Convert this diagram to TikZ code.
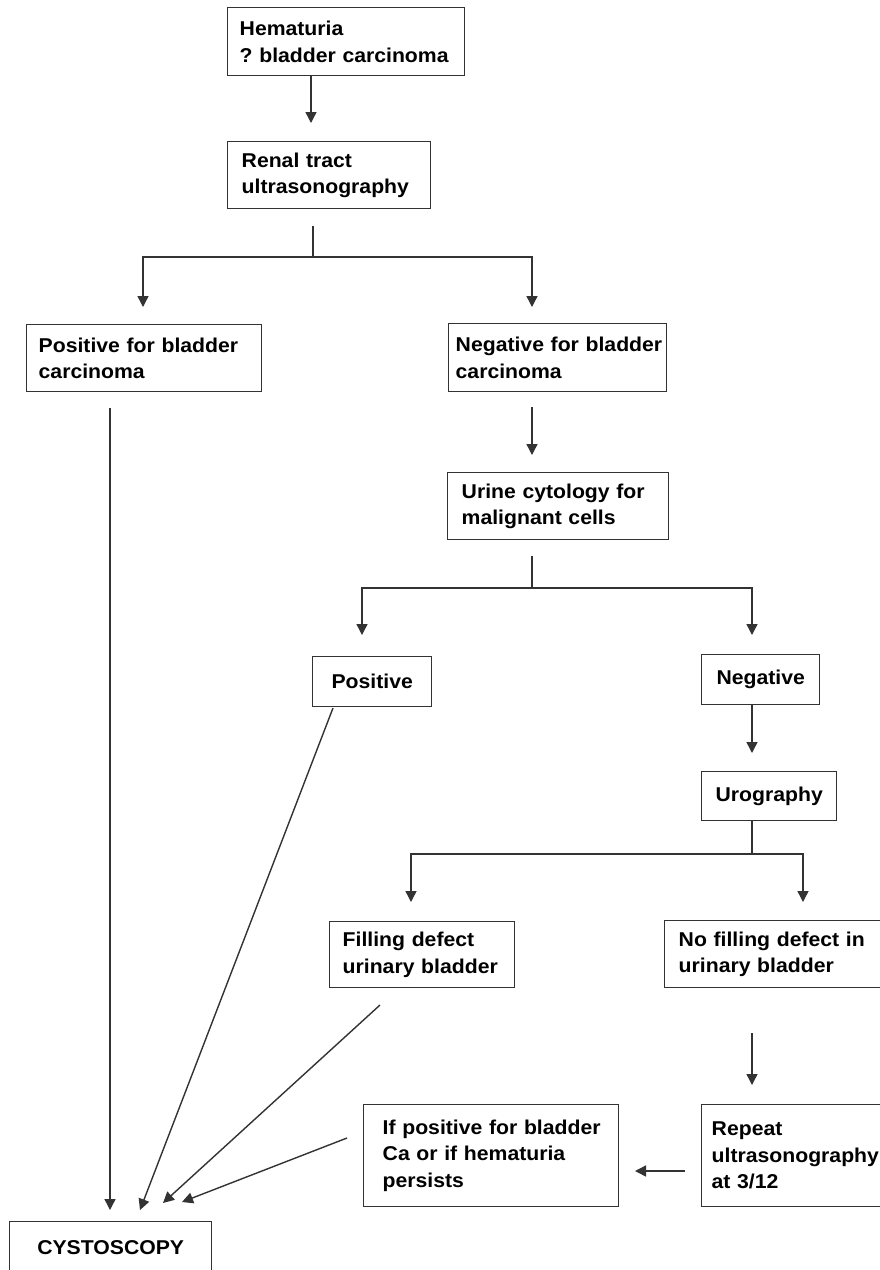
\documentclass[tikz,border=0pt]{standalone}
\usepackage{fontspec}
\setmainfont{Liberation Sans}[FakeStretch=1.06]
\usetikzlibrary{arrows.meta,calc}
\definecolor{ink}{HTML}{333333}
\frenchspacing
\begin{document}
\begin{tikzpicture}[x=1pt,y=-1pt,
  box/.style={draw=ink, line width=1.4pt, anchor=north west, inner ysep=0pt,
    font=\bfseries\fontsize{20}{26.5}\selectfont, text=black},
  lbox/.style args={#1/#2/#3}{box, minimum width=#1, minimum height=#2,
    inner xsep=#3, text width=#1-2*#3, align=left},
  cbox/.style args={#1/#2}{box, minimum width=#1, minimum height=#2, inner xsep=0pt, align=center},
  ln/.style={draw=ink, line width=1.4pt},
  arr/.style={ln, -{Triangle[length=11pt,width=11pt]}}]
\useasboundingbox (0,0) rectangle (880,1270);
\fill[white] (0,0) rectangle (880,1270);

% boxes
\node[lbox=237/68/12] (hem) at (227,7) {\mbox{Hematuria}\\\mbox{? bladder carcinoma}};
\node[lbox=203/67/14] (renal) at (227,141) {\mbox{Renal tract}\\\mbox{ultrasonography}};
\node[lbox=235/67/12] (pos) at (26,324) {\mbox{Positive for bladder}\\\mbox{carcinoma}};
\node[lbox=218/68/7] (neg) at (448,323) {\mbox{Negative for bladder}\\\mbox{carcinoma}};
\node[lbox=221/67/14] (urine) at (447,472) {\mbox{Urine cytology for}\\\mbox{malignant cells}};
\node[cbox=119/50] (possm) at (312,656) {Positive};
\node[cbox=118/50] (negsm) at (701,654) {Negative};
\node[cbox=135/49] (urog) at (701,771) {Urography};
\node[lbox=185/66/13] (fill) at (329,921) {\mbox{Filling defect}\\\mbox{urinary bladder}};
\node[lbox=220/67/14] (nofill) at (664,920) {\mbox{No filling defect in}\\\mbox{urinary bladder}};
\node[lbox=255/102/19] (ifpos) at (363,1104) {\mbox{If positive for bladder}\\\mbox{Ca or if hematuria}\\\mbox{persists}};
\node[lbox=190/102/10] (repeat) at (701,1104) {\mbox{Repeat}\\\mbox{ultrasonography}\\\mbox{at 3/12}};
\node[cbox=202/51] (cysto) at (9,1221) {CYSTOSCOPY};

% junction and tip coordinates
\coordinate (t1) at (311,123);
\coordinate (s2) at (313,226);
\coordinate (j2) at (313,257);
\coordinate (t2a) at (143,307);
\coordinate (t2b) at (532,307);
\coordinate (s3) at (110,408);
\coordinate (t3) at (110,1210);
\coordinate (s4) at (532,407);
\coordinate (t4) at (532,455);
\coordinate (s5) at (532,556);
\coordinate (j5) at (532,588);
\coordinate (t5a) at (362,635);
\coordinate (t5b) at (752,635);
\coordinate (t6) at (752,753);
\coordinate (j7) at (752,854);
\coordinate (t7a) at (411,902);
\coordinate (t7b) at (803,902);
\coordinate (s8) at (752,1033);
\coordinate (t8) at (752,1085);
\coordinate (s9) at (685,1171);
\coordinate (t9) at (635,1171);
\coordinate (s10) at (333,708);
\coordinate (t10) at (140,1210);
\coordinate (s11) at (380,1005);
\coordinate (t11) at (163,1203);
\coordinate (s12) at (347,1138);
\coordinate (t12) at (182,1202);

% connectors
\draw[arr] (hem.south -| t1) -- (t1);
\draw[ln] (s2) -- (j2);
\draw[arr] (j2) -| (t2a);
\draw[arr] (j2) -| (t2b);
\draw[arr] (s3) -- (t3);
\draw[arr] (s4) -- (t4);
\draw[ln] (s5) -- (j5);
\draw[arr] (j5) -| (t5a);
\draw[arr] (j5) -| (t5b);
\draw[arr] (negsm.south -| t6) -- (t6);
\draw[ln] (urog.south -| j7) -- (j7);
\draw[arr] (j7) -| (t7a);
\draw[arr] (j7) -| (t7b);
\draw[arr] (s8) -- (t8);
\draw[arr] (s9) -- (t9);
\draw[arr] (s10) -- (t10);
\draw[arr] (s11) -- (t11);
\draw[arr] (s12) -- (t12);
\end{tikzpicture}
\end{document}
